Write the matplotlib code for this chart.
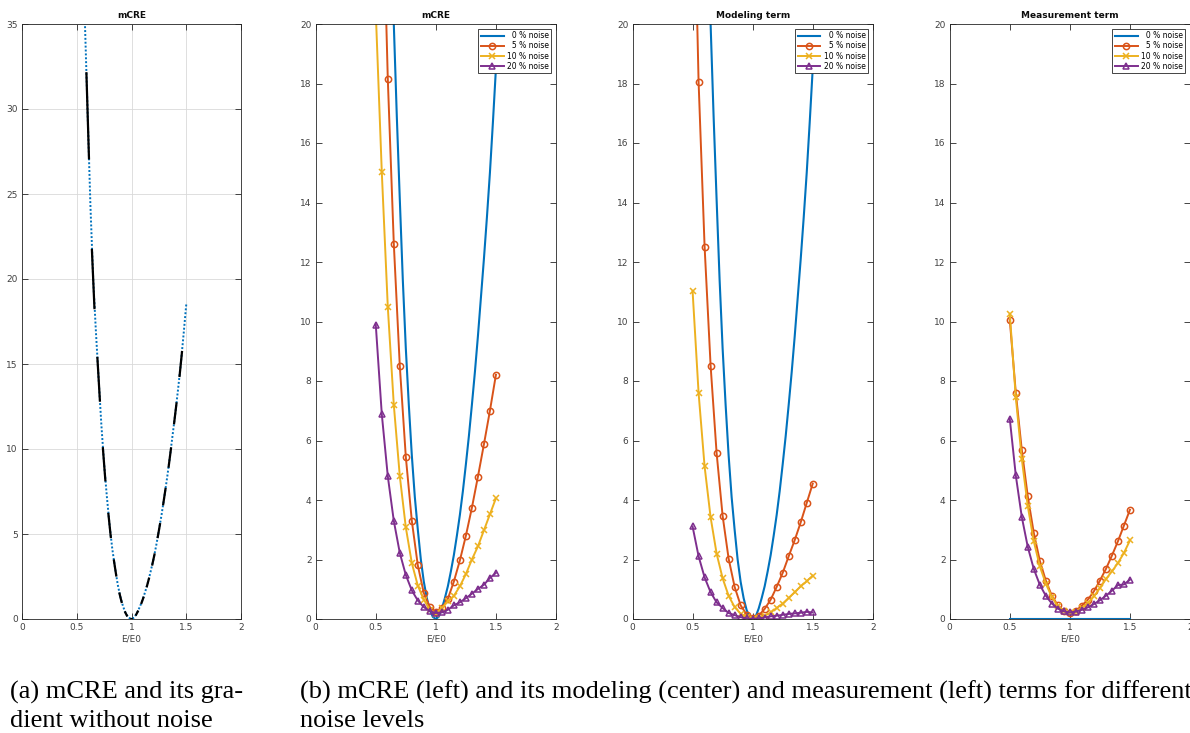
import numpy as np
import matplotlib
matplotlib.use('Agg')
import matplotlib.pyplot as plt

# ---------------------------------------------------------------
# data
# ---------------------------------------------------------------
# noise free mCRE on a fine grid (also modeling term at 0 % noise)
E_fine = [0.500, 0.525, 0.550, 0.575, 0.600, 0.625, 0.650, 0.675, 0.700, 0.725,
          0.750, 0.775, 0.800, 0.825, 0.850, 0.875, 0.900, 0.925, 0.950, 0.975,
          1.000, 1.025, 1.050, 1.075, 1.100, 1.125, 1.150, 1.175, 1.200, 1.225,
          1.250, 1.275, 1.300, 1.325, 1.350, 1.375, 1.400, 1.425, 1.450, 1.475,
          1.500]
mcre_0 = [56.0, 48.0, 41.5, 35.0, 29.6, 24.3, 20.0, 16.9, 14.1, 11.4,
          9.1, 7.2, 5.5, 4.1, 3.0, 2.0, 1.25, 0.70, 0.30, 0.07,
          0.0, 0.08, 0.35, 0.70, 1.10, 1.60, 2.15, 2.80, 3.50, 4.30,
          5.20, 6.15, 7.20, 8.30, 9.50, 10.8, 12.1, 13.5, 15.0, 16.7,
          18.5]
meas_0 = [0.0] * len(E_fine)

# points where the gradient is drawn (panel a)
E_grad = [0.60, 0.65, 0.70, 0.75, 0.80, 0.85, 0.90, 0.95, 1.00,
          1.05, 1.10, 1.15, 1.20, 1.25, 1.30, 1.35, 1.40, 1.45]

# noisy runs
E_noise = [0.50, 0.55, 0.60, 0.65, 0.70, 0.75, 0.80, 0.85, 0.90, 0.95, 1.00,
           1.05, 1.10, 1.15, 1.20, 1.25, 1.30, 1.35, 1.40, 1.45, 1.50]

mcre_5 = [37.0, 25.7, 18.16, 12.62, 8.50, 5.45, 3.30, 1.80, 0.87, 0.40, 0.22,
          0.36, 0.68, 1.26, 1.97, 2.80, 3.74, 4.78, 5.87, 7.00, 8.21]
mcre_10 = [20.4, 15.03, 10.49, 7.20, 4.80, 3.08, 1.88, 1.12, 0.65, 0.31, 0.18,
           0.37, 0.59, 0.78, 1.10, 1.51, 2.00, 2.44, 2.98, 3.52, 4.06]
mcre_20 = [9.89, 6.89, 4.80, 3.30, 2.22, 1.48, 0.96, 0.62, 0.40, 0.26, 0.20,
           0.22, 0.31, 0.46, 0.56, 0.70, 0.85, 1.01, 1.15, 1.38, 1.55]

mod_5 = [26.9, 18.06, 12.52, 8.52, 5.58, 3.47, 2.03, 1.08, 0.46, 0.15, 0.03,
         0.11, 0.34, 0.65, 1.08, 1.55, 2.11, 2.65, 3.25, 3.90, 4.55]
mod_10 = [11.03, 7.60, 5.13, 3.42, 2.20, 1.37, 0.78, 0.40, 0.18, 0.06, 0.00,
          0.03, 0.11, 0.22, 0.37, 0.52, 0.71, 0.90, 1.10, 1.27, 1.46]
mod_20 = [3.11, 2.11, 1.40, 0.90, 0.56, 0.37, 0.20, 0.13, 0.06, 0.02, 0.00,
          0.02, 0.05, 0.09, 0.11, 0.14, 0.17, 0.19, 0.21, 0.24, 0.22]

meas_5 = [10.06, 7.61, 5.68, 4.12, 2.89, 1.96, 1.29, 0.78, 0.46, 0.26, 0.20,
          0.27, 0.45, 0.65, 0.93, 1.29, 1.68, 2.13, 2.61, 3.14, 3.67]
meas_10 = [10.26, 7.46, 5.38, 3.79, 2.61, 1.77, 1.19, 0.74, 0.43, 0.26, 0.20,
           0.25, 0.37, 0.54, 0.76, 1.04, 1.34, 1.60, 1.88, 2.22, 2.64]
meas_20 = [6.73, 4.83, 3.43, 2.42, 1.68, 1.15, 0.78, 0.52, 0.35, 0.26, 0.22,
           0.25, 0.31, 0.39, 0.50, 0.63, 0.78, 0.95, 1.14, 1.16, 1.32]

noise_labels = ['\u20070 % noise', '\u20075 % noise', '10 % noise', '20 % noise']

caption_a = ['(a) mCRE and its gra-', 'dient without noise']
caption_b = ['(b) mCRE (left) and its modeling (center) and measurement (left) terms for different',
             'noise levels']

# matlab default colours
c_blue = (0.0, 0.447, 0.741)
c_orange = (0.850, 0.325, 0.098)
c_yellow = (0.929, 0.694, 0.125)
c_purple = (0.494, 0.184, 0.556)
axcol = '0.15'


def style_axes(ax, ymax, ystep, title, grid=False):
    ax.set_xlim(0, 2)
    ax.set_ylim(0, ymax)
    ax.set_xticks(np.arange(0, 2.01, 0.5))
    ax.set_xticklabels(['0', '0.5', '1', '1.5', '2'])
    ax.set_yticks(np.arange(0, ymax + 0.01, ystep))
    ax.tick_params(direction='in', length=4, width=0.6, labelsize=6.5,
                   colors=axcol, labelcolor='0.25', top=True, right=True, pad=3)
    for sp in ax.spines.values():
        sp.set_color(axcol)
        sp.set_linewidth(0.6)
    ax.set_title(title, fontsize=6.5, fontweight='bold', pad=4, color='0.05')
    ax.set_xlabel('E/E0', fontsize=6.5, color='0.25', labelpad=2)
    if grid:
        ax.grid(True, color='0.85', linewidth=0.6)
        ax.set_axisbelow(True)


def noisy_panel(ax, E_b, v_b, v5, v10, v20, title):
    ax.plot(E_b, v_b, color=c_blue, lw=1.5, label=noise_labels[0])
    ax.plot(E_noise, v5, color=c_orange, lw=1.4, marker='o', ms=4.5,
            mfc='none', mew=1.1, label=noise_labels[1])
    ax.plot(E_noise, v10, color=c_yellow, lw=1.4, marker='x', ms=4,
            mew=1.1, label=noise_labels[2])
    ax.plot(E_noise, v20, color=c_purple, lw=1.4, marker='^', ms=4.5,
            mfc='none', mew=1.1, label=noise_labels[3])
    style_axes(ax, 20, 2, title)
    leg = ax.legend(loc='upper right', fontsize=5.5, handlelength=3.0,
                    handletextpad=0.4, borderpad=0.35, labelspacing=0.15,
                    borderaxespad=0.6, fancybox=False, framealpha=1)
    leg.get_frame().set_edgecolor(axcol)
    leg.get_frame().set_linewidth(0.6)


fig = plt.figure(figsize=(11.9, 7.33), dpi=100)

H = 595 / 733
B = 1 - 619 / 733
ax1 = fig.add_axes([22 / 1190, B, 219 / 1190, H])
ax2 = fig.add_axes([315.7 / 1190, B, 240.3 / 1190, H])
ax3 = fig.add_axes([632.5 / 1190, B, 240.3 / 1190, H])
ax4 = fig.add_axes([949.7 / 1190, B, 240.3 / 1190, H])

# (a) mCRE with gradient segments
ax1.plot(E_fine, mcre_0, color=c_blue, lw=1.4, linestyle=(0, (1, 1)))
slope = np.gradient(np.array(mcre_0), np.array(E_fine))
half = 0.012
for e in E_grad:
    v = np.interp(e, E_fine, mcre_0)
    s = np.interp(e, E_fine, slope)
    ax1.plot([e - half, e + half], [v - s * half, v + s * half],
             color='black', lw=1.6, solid_capstyle='butt')
style_axes(ax1, 35, 5, 'mCRE', grid=True)

# (b) noisy runs
noisy_panel(ax2, E_fine, mcre_0, mcre_5, mcre_10, mcre_20, 'mCRE')
noisy_panel(ax3, E_fine, mcre_0, mod_5, mod_10, mod_20, 'Modeling term')
noisy_panel(ax4, E_fine, meas_0, meas_5, meas_10, meas_20, 'Measurement term')

# captions, one text per line
cap = dict(fontsize=19, family='Liberation Serif', va='baseline', ha='left',
           color='black')
for i, line in enumerate(caption_a):
    fig.text(10 / 1190, 1 - (699 + 28 * i) / 733, line, **cap)
for i, line in enumerate(caption_b):
    fig.text(300 / 1190, 1 - (699 + 28 * i) / 733, line, **cap)

fig.savefig('out.png', dpi=100)
